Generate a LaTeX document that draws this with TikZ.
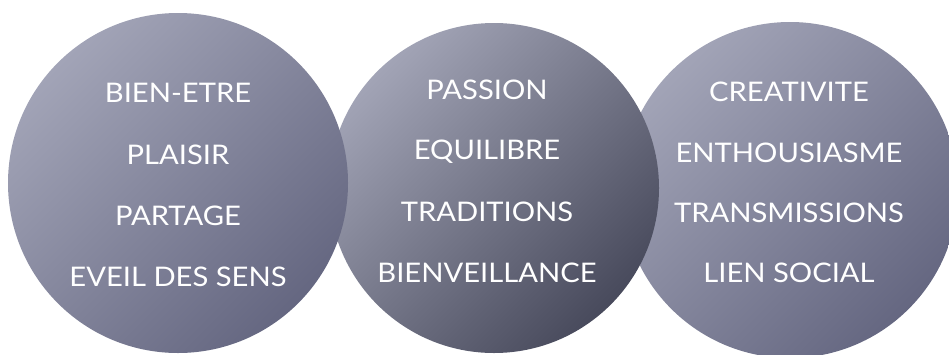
\documentclass[tikz,border=0pt]{standalone}
\usepackage{fontspec}
\setmainfont{Lato}[FakeStretch=1.08]
\definecolor{lightA}{HTML}{A2A4B7}
\definecolor{darkA}{HTML}{656781}
\definecolor{lightB}{HTML}{A2A4B6}
\definecolor{midB}{HTML}{5E6075}
\definecolor{darkB}{HTML}{484A5C}
\begin{document}
\begin{tikzpicture}[x=1pt,y=-1pt,
  bubble/.style={circle, inner sep=0pt, draw=none},
  bubA/.style={bubble, top color=lightA, bottom color=darkA, shading angle=45},
  bubB/.style={bubble, top color=lightB, middle color=midB, bottom color=darkB, shading angle=45},
  lbl/.style={text=white, inner sep=0pt, font=\fontsize{27}{32}\selectfont}]
\useasboundingbox (0,0) rectangle (949,354);
\node[bubA, minimum size=336pt] (right) at (790,190) {};
\node[bubB, minimum size=330pt] (mid) at (494,188) {};
\node[bubA, minimum size=340pt] (left) at (178,183) {};
\node[lbl] (l1) at (178,93) {BIEN-ETRE};
\node[lbl] (l2) at (178,155) {PLAISIR};
\node[lbl] (l3) at (178,216) {PARTAGE};
\node[lbl] (l4) at (178,277) {EVEIL DES SENS};
\node[lbl] (m1) at (487,90) {PASSION};
\node[lbl] (m2) at (487,152) {EQUILIBRE};
\node[lbl] (m3) at (487,212) {TRADITIONS};
\node[lbl] (m4) at (487,273) {BIENVEILLANCE};
\node[lbl] (r1) at (789,92) {CREATIVITE};
\node[lbl] (r2) at (789,153) {ENTHOUSIASME};
\node[lbl] (r3) at (789,213) {TRANSMISSIONS};
\node[lbl] (r4) at (789,273) {LIEN SOCIAL};
\end{tikzpicture}
\end{document}
